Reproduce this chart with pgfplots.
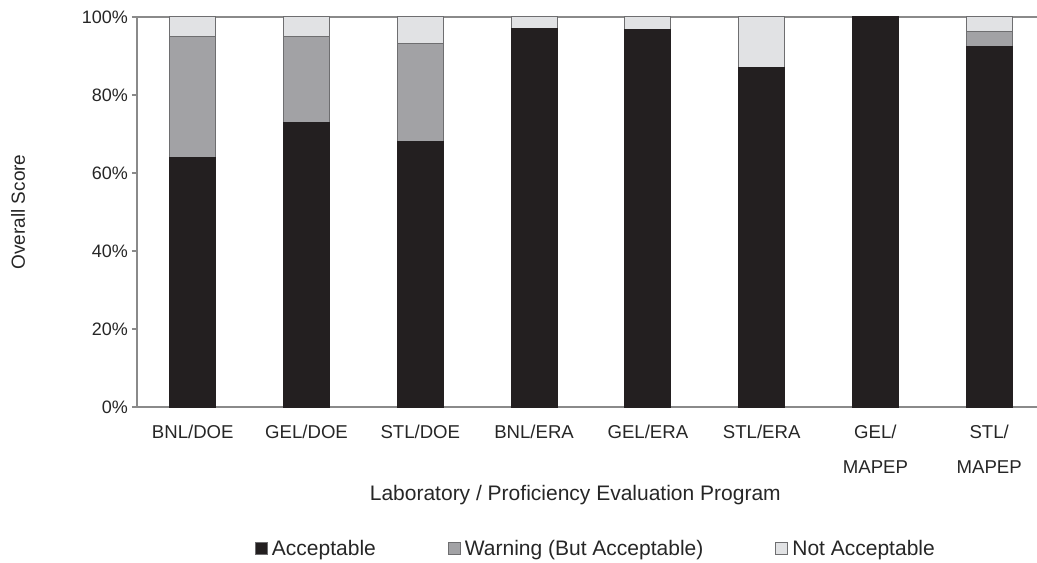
\documentclass[border=0pt]{standalone}
\usepackage{pgfplots}
\pgfplotsset{compat=1.18}
\usepackage{fontspec}
\setmainfont{Liberation Sans}
\definecolor{cblack}{HTML}{231F20}
\definecolor{cgray}{HTML}{A2A2A5}
\definecolor{clight}{HTML}{E1E2E4}
\definecolor{cedge}{HTML}{6E6E70}
\definecolor{caxis}{HTML}{8A8A8A}
\begin{document}
\begin{tikzpicture}
\useasboundingbox (-68.5pt,-77.5pt) rectangle (450pt,203.5pt);
\begin{axis}[
  at={(0,0)}, anchor=south west,
  scale only axis, width=450pt, height=195pt,
  ybar stacked, bar width=23pt,
  xmin=-0.49, xmax=7.42, ymin=0, ymax=100,
  xtick={0,...,7},
  xticklabels={BNL/DOE,GEL/DOE,STL/DOE,BNL/ERA,GEL/ERA,STL/ERA,GEL/\\MAPEP,STL/\\MAPEP},
  xticklabel style={align=center, font=\fontsize{9.3}{17.5}\selectfont, color=black!85, yshift=-3pt},
  major x tick style={draw=none},
  ytick={0,20,40,60,80,100},
  yticklabels={0\%,20\%,40\%,60\%,80\%,100\%},
  yticklabel style={font=\fontsize{9}{11}\selectfont, color=black!85, xshift=1.5pt},
  y tick style={draw=caxis, line width=0.6pt},
  tick align=outside, major tick length=2.5pt,
  axis x line*=bottom, axis y line*=left,
  axis line style={draw=caxis, line width=0.8pt, -},
  extra y ticks={100}, extra y tick labels={},
  extra y tick style={grid=major, major grid style={draw=caxis, line width=0.8pt}, tick style={draw=none}},
  xlabel={Laboratory / Proficiency Evaluation Program},
  xlabel style={at={(axis description cs:0.487,-0.226)}, anchor=center, font=\fontsize{10.5}{12}\selectfont, color=black!85},
  ylabel={Overall Score},
  ylabel style={at={(axis description cs:-0.132,0.5)}, anchor=center, rotate=0, font=\fontsize{9.5}{12}\selectfont, color=black!85},
  legend columns=3,
  legend style={at={(axis description cs:0.511,-0.364)}, anchor=center, draw=none, fill=none,
    font=\fontsize{10.5}{12}\selectfont, text=black!85,
    /tikz/every even column/.append style={column sep=34pt}},
  area legend,
  legend image code/.code={\draw[#1, draw=cedge, line width=0.5pt] (0pt,-3pt) rectangle (6pt,3pt);},
]
\addplot[fill=cblack, draw=cblack, line width=0.5pt] coordinates {(0,64) (1,73) (2,68) (3,97) (4,96.7) (5,87) (6,100) (7,92.4)};
\addplot[fill=cgray, draw=cedge, line width=0.5pt] coordinates {(0,31) (1,22) (2,25.3) (3,0) (4,0) (5,0) (6,0) (7,3.8)};
\addplot[fill=clight, draw=cedge, line width=0.5pt] coordinates {(0,5) (1,5) (2,6.7) (3,3) (4,3.3) (5,13) (6,0) (7,3.8)};
\legend{Acceptable, Warning (But Acceptable), Not Acceptable}
\end{axis}
\end{tikzpicture}
\end{document}
